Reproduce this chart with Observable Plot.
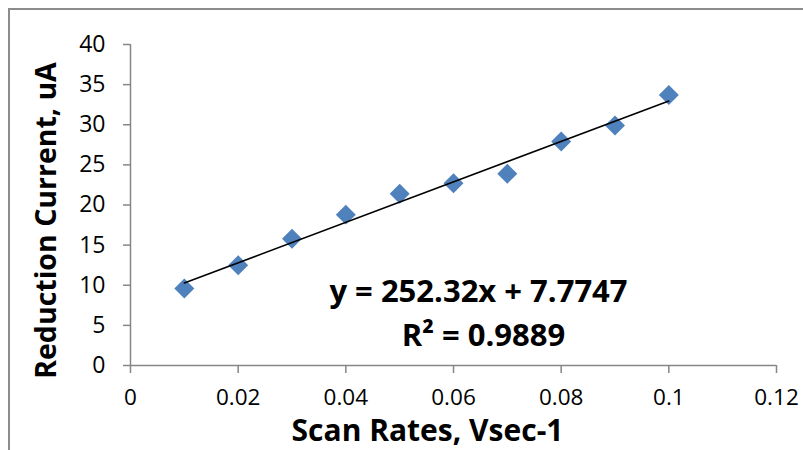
<!DOCTYPE html>
<html>
<head>
<meta charset="utf-8">
<script src="https://cdn.jsdelivr.net/npm/d3@7"></script>
<script src="https://cdn.jsdelivr.net/npm/@observablehq/plot@0.6"></script>
<style>
  html, body { margin: 0; padding: 0; background: #fff; }
  #wrap { position: relative; width: 803px; height: 450px; overflow: hidden; }
  #border { position: absolute; left: 8px; top: 8px; width: 820px; height: 460px;
            border-left: 2px solid #8c8c8c; border-top: 2px solid #8c8c8c; pointer-events: none; }
</style>
</head>
<body>
<div id="wrap"><div id="border"></div></div>
<script>
// Data
const scanRates = [0.01, 0.02, 0.03, 0.04, 0.05, 0.06, 0.07, 0.08, 0.09, 0.10];
const currents  = [9.6, 12.5, 15.8, 18.8, 21.4, 22.7, 23.9, 27.9, 29.9, 33.7];

const xTicks = [0, 0.02, 0.04, 0.06, 0.08, 0.10, 0.12];
const xTickLabels = ["0", "0.02", "0.04", "0.06", "0.08", "0.1", "0.12"];
const yTicks = [0, 5, 10, 15, 20, 25, 30, 35, 40];
const yTickLabels = ["0", "5", "10", "15", "20", "25", "30", "35", "40"];

const xTitle = ["Scan Rates, Vsec-1"];
const yTitle = ["Reduction Current, uA"];
const equationText = ["y = 252.32x + 7.7747"];
const r2Text = ["R\u00B2 = 0.9889"];

const data = scanRates.map((x, i) => ({x, y: currents[i]}));

const axisGray = "#868686";
const font = "'Open Sans', Lato, sans-serif";

const chart = Plot.plot({
  width: 803,
  height: 450,
  marginLeft: 130,
  marginRight: 27,
  marginTop: 44,
  marginBottom: 85,
  style: { fontFamily: font, background: "transparent", overflow: "visible" },
  x: { domain: [0, 0.12] },
  y: { domain: [0, 40] },
  marks: [
    Plot.ruleY([0], { stroke: axisGray, strokeWidth: 1.5 }),
    Plot.ruleX([0], { stroke: axisGray, strokeWidth: 1.5 }),
    Plot.axisX({
      ticks: xTicks, tickFormat: (d, i) => xTickLabels[i], label: null,
      tickSize: 8, tickPadding: 16, stroke: axisGray, strokeWidth: 1.5,
      fill: "#000", fontSize: 22.5
    }),
    Plot.axisY({
      ticks: yTicks, tickFormat: (d, i) => yTickLabels[i], label: null,
      tickSize: 7, tickPadding: 18, stroke: axisGray, strokeWidth: 1.5,
      fill: "#000", fontSize: 23
    }),
    Plot.dot(data, { x: "x", y: "y", symbol: "diamond2", r: 9, fill: "#4F81BD", stroke: "none" }),
    Plot.linearRegressionY(data, { x: "x", y: "y", stroke: "#000", strokeWidth: 1.5, ci: 0 }),
    Plot.text(equationText, { text: d => d, frameAnchor: "bottom", textAnchor: "middle", lineAnchor: "middle",
      dx: 25, dy: -73, fontSize: 31, fontWeight: "bold", fill: "#000" }),
    Plot.text(r2Text, { text: d => d, frameAnchor: "bottom", textAnchor: "middle", lineAnchor: "middle",
      dx: 30, dy: -29, fontSize: 31, fontWeight: "bold", fill: "#000" }),
    Plot.text(xTitle, { text: d => d, frameAnchor: "bottom", textAnchor: "middle", lineAnchor: "middle",
      dx: -26, dy: 66, fontSize: 30, fontWeight: "bold", fill: "#000" }),
    Plot.text(yTitle, { text: d => d, frameAnchor: "left", textAnchor: "middle", lineAnchor: "middle",
      rotate: -90, dx: -84, dy: 15.5, fontSize: 28.5, fontWeight: "bold", fill: "#000" })
  ]
});
chart.style.position = "absolute";
chart.style.left = "0";
chart.style.top = "0";
document.getElementById("wrap").appendChild(chart);
</script>
</body>
</html>
